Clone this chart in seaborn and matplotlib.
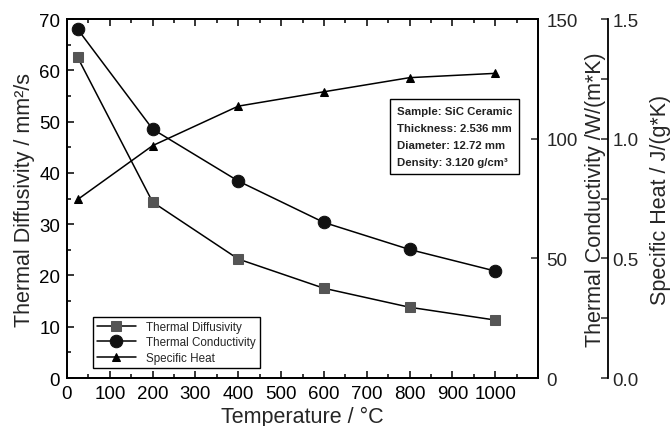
import numpy as np
import pandas as pd
import matplotlib
matplotlib.use("Agg")
import matplotlib.pyplot as plt
from matplotlib.ticker import MultipleLocator, FormatStrFormatter
import seaborn as sns

# dati
temperature = [25, 200, 400, 600, 800, 1000]
diffusivity = [62.5, 34.3, 23.2, 17.5, 13.8, 11.3]
conductivity = [145.7, 104.0, 82.3, 65.0, 53.7, 44.7]
specific_heat = [0.746, 0.971, 1.136, 1.196, 1.255, 1.273]

df = pd.DataFrame({"T": temperature, "diff": diffusivity,
                   "cond": conductivity, "cp": specific_heat})

sns.set_style("ticks")
plt.rcParams['font.family'] = ['Liberation Sans', 'DejaVu Sans']

fig = plt.figure(figsize=(6.72, 4.27), dpi=100)
ax = fig.add_axes([0.0997, 0.1124, 0.7009, 0.8407])
ax2 = ax.twinx()
ax3 = ax.twinx()

sns.lineplot(data=df, x="T", y="diff", ax=ax, color="black", marker="s",
             markersize=6.5, markerfacecolor="#555555", markeredgecolor="#555555",
             linewidth=1.1, label="Thermal Diffusivity", legend=False)
sns.lineplot(data=df, x="T", y="cond", ax=ax2, color="black", marker="o",
             markersize=9, markerfacecolor="#111111", markeredgecolor="#111111",
             linewidth=1.1, label="Thermal Conductivity", legend=False)
sns.lineplot(data=df, x="T", y="cp", ax=ax3, color="black", marker="^",
             markersize=5.5, markerfacecolor="black", markeredgecolor="black",
             linewidth=1.1, label="Specific Heat", legend=False)

ax.set_xlim(0, 1100)
ax.set_ylim(0, 70)
ax2.set_ylim(0, 150)
ax3.set_ylim(0, 1.5)

ax.xaxis.set_minor_locator(MultipleLocator(50))
ax.yaxis.set_major_locator(MultipleLocator(10))
ax.yaxis.set_minor_locator(MultipleLocator(5))
ax.set_xticks(np.arange(0, 1001, 100))
ax2.yaxis.set_major_locator(MultipleLocator(50))
ax2.yaxis.set_minor_locator(MultipleLocator(25))
ax3.yaxis.set_major_locator(MultipleLocator(0.5))
ax3.yaxis.set_minor_locator(MultipleLocator(0.25))

for a in (ax, ax2, ax3):
    for s in a.spines.values():
        s.set_linewidth(1.3)
        s.set_color("black")

ax.tick_params(axis="both", which="both", direction="in", top=True,
               labelsize=13.5, width=1.1, colors="black", pad=5)
ax.tick_params(which="major", length=5)
ax.tick_params(which="minor", length=3)
ax2.tick_params(axis="y", which="both", direction="in", labelsize=13.5,
                width=1.1, pad=6)
ax2.tick_params(which="major", length=5)
ax2.tick_params(which="minor", length=0)

ax3.spines['right'].set_position(('axes', 1.149))
ax3.spines['top'].set_visible(False)
ax3.spines['left'].set_visible(False)
ax3.spines['bottom'].set_visible(False)
ax3.tick_params(axis="y", which="both", direction="in", labelsize=13.5,
                width=1.1, pad=3)
ax3.tick_params(which="major", length=5)
ax3.tick_params(which="minor", length=5)
ax3.yaxis.set_major_formatter(FormatStrFormatter('%.1f'))

ax.set_xlabel("Temperature / °C", fontsize=15.5, labelpad=3)
ax.set_ylabel("Thermal Diffusivity / mm²/s", fontsize=15.5, labelpad=3)
ax2.set_ylabel("Thermal Conductivity /W/(m*K)", fontsize=15.5, labelpad=5)
ax3.set_ylabel("Specific Heat / J/(g*K)", fontsize=15.5, labelpad=8)

handles = ax.get_lines()[:1] + ax2.get_lines()[:1] + ax3.get_lines()[:1]
leg = ax.legend(handles, [h.get_label() for h in handles], loc="lower left",
                bbox_to_anchor=(0.043, 0.012), fontsize=8.4, frameon=True,
                fancybox=False, edgecolor="black", framealpha=1,
                handlelength=3.3, borderpad=0.35, labelspacing=0.3,
                handletextpad=0.9)
leg.get_frame().set_linewidth(1.0)

ax.text(0.823, 0.673,
        "Sample: SiC Ceramic\nThickness: 2.536 mm\nDiameter: 12.72 mm\nDensity: 3.120 g/cm³",
        transform=ax.transAxes, ha="center", va="center", fontsize=8.2,
        multialignment="left",
        fontweight="bold", linespacing=1.9, color="#222222",
        bbox=dict(boxstyle="square,pad=0.6", facecolor="white",
                  edgecolor="black", linewidth=1.0))

fig.savefig("out.png", dpi=100)
